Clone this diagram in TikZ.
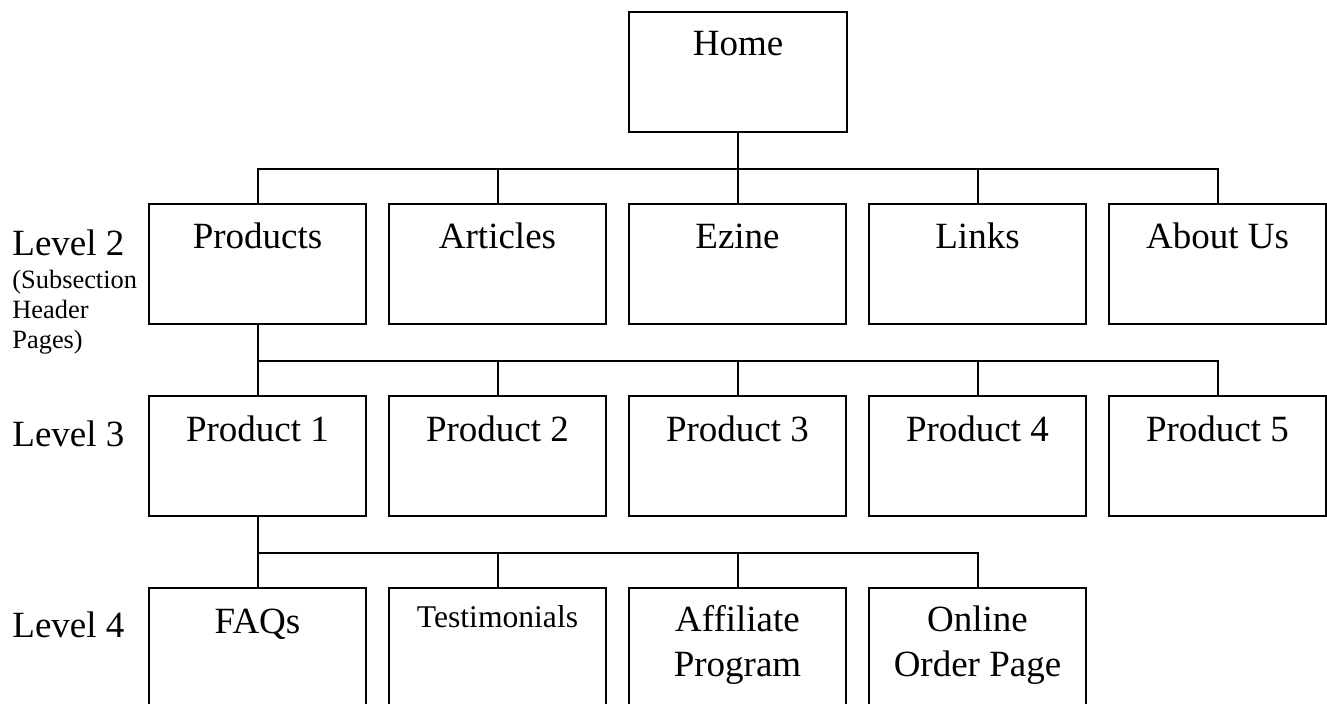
\documentclass[tikz,border=0pt]{standalone}
\usepackage{fontspec}
\setmainfont{Liberation Serif}
\usetikzlibrary{calc}

\begin{document}
\begin{tikzpicture}
    [x=0.5pt, y=-0.5pt,
    page/.style ={draw, line width=0.85pt, inner sep=0pt,
        minimum width=108.5pt, minimum height=60pt},
    title/.style ={anchor=base, inner sep=0pt, align=center,
        font=\fontsize{18.5}{22.5}\selectfont},
    small title/.style ={title, font=\fontsize{15.8}{19}\selectfont},
    level label/.style ={anchor=base west, inner sep=0pt, align=left,
        font=\fontsize{18.5}{22.5}\selectfont},
    note/.style ={anchor=base west, inner sep=0pt, align=left,
        font=\fontsize{13.2}{15}\selectfont},
    link/.style ={line width=1pt}
    ]
    \clip (0,0) rectangle (1327,704);

    % level 1
    \node (home) [page, minimum width=109pt] at (738,72) {};

    % level 2
    \node (products) [page] at (257.5,264) {};
    \node (articles) [page] at (497.5,264) {};
    \node (ezine)    [page] at (737.5,264) {};
    \node (links)    [page] at (977.5,264) {};
    \node (aboutus)  [page] at (1217.5,264) {};

    % level 3
    \node (product1) [page] at (257.5,456) {};
    \node (product2) [page] at (497.5,456) {};
    \node (product3) [page] at (737.5,456) {};
    \node (product4) [page] at (977.5,456) {};
    \node (product5) [page] at (1217.5,456) {};

    % level 4
    \node (faqs)      [page] at (257.5,648) {};
    \node (testimon)  [page] at (497.5,648) {};
    \node (affiliate) [page] at (737.5,648) {};
    \node (order)     [page] at (977.5,648) {};

    % page names (multi-line ones sit on their last line)
    \node [title] at ($(home.north)+(0,44)$) {Home};
    \node [title] at ($(products.north)+(0,45)$) {Products};
    \node [title] at ($(articles.north)+(0,45)$) {Articles};
    \node [title] at ($(ezine.north)+(0,45)$) {Ezine};
    \node [title] at ($(links.north)+(0,45)$) {Links};
    \node [title] at ($(aboutus.north)+(0,45)$) {About Us};
    \node [title] at ($(product1.north)+(0,46)$) {Product 1};
    \node [title] at ($(product2.north)+(0,46)$) {Product 2};
    \node [title] at ($(product3.north)+(0,46)$) {Product 3};
    \node [title] at ($(product4.north)+(0,46)$) {Product 4};
    \node [title] at ($(product5.north)+(0,46)$) {Product 5};
    \node [title] at ($(faqs.north)+(0,46)$) {FAQs};
    \node [small title] at ($(testimon.north)+(0,40)$) {Testimonials};
    \node [title] at ($(affiliate.north)+(0,89)$) {Affiliate\\Program};
    \node [title] at ($(order.north)+(0,89)$) {Online\\Order Page};

    % levels
    \node [level label] at (12,256) {Level 2};
    \node [note] at (12,349) {(Subsection\\Header\\Pages)};
    \node [level label] at (12,447) {Level 3};
    \node [level label] at (12,638) {Level 4};

    % links
    \foreach \child in {products,articles,ezine,links,aboutus}
        \draw [link] (home.south) -- ++(0,36) -| (\child.north);
    \foreach \child in {product1,product2,product3,product4,product5}
        \draw [link] (products.south) -- ++(0,36) -| (\child.north);
    \foreach \child in {faqs,testimon,affiliate,order}
        \draw [link] (product1.south) -- ++(0,36) -| (\child.north);
\end{tikzpicture}
\end{document}
